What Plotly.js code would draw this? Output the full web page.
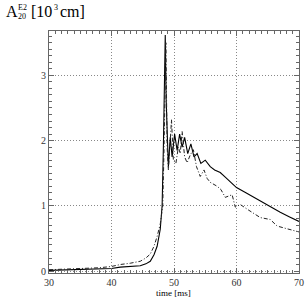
<!DOCTYPE html>
<html><head><meta charset="utf-8">
<script src="https://cdn.plot.ly/plotly-3.0.1.min.js"></script>
<style>html,body{margin:0;padding:0;background:#fff;}</style>
</head><body>
<div id="chart" style="width:305px;height:305px;"></div>
<script>
const solidT = [30,32,34,36,38,40,41.4,43,44.6,45.5,46.2,46.8,47.3,47.8,48.1,48.3,48.45,48.6,48.75,48.9,49.1,49.4,49.7,50.1,50.5,50.9,51.3,51.7,52.2,52.7,53.2,53.7,54.3,55,55.8,56.5,57.4,58.2,59,60,61.5,63.8,65.5,67,68.5,70];
const solidA = [0.01,0.015,0.02,0.025,0.03,0.04,0.06,0.07,0.08,0.11,0.15,0.25,0.38,0.64,1.0,1.9,3.0,3.62,2.6,2.0,1.6,2.05,1.75,2.1,1.85,2.1,1.9,2.05,1.8,1.95,1.75,1.8,1.65,1.7,1.6,1.55,1.51,1.44,1.37,1.28,1.2,1.07,0.98,0.9,0.83,0.76];
const dashT = [30,32,34,36,38,40,41.4,43,44.6,45.5,46.2,46.8,47.3,47.8,48.2,48.4,48.55,48.7,48.9,49.1,49.4,49.6,49.9,50.3,50.7,51.0,51.3,51.7,52.1,52.6,53.1,53.6,54.2,54.8,55.3,55.8,56.9,57.5,58.2,58.8,59.3,59.8,60.6,62,63.8,65.4,66.5,68,70];
const dashA = [0.02,0.025,0.03,0.04,0.05,0.07,0.1,0.12,0.15,0.2,0.26,0.38,0.53,0.72,1.0,1.86,2.8,3.5,1.9,1.55,2.0,2.32,1.7,1.65,1.9,1.8,2.14,1.75,1.66,1.78,1.86,1.6,1.45,1.55,1.42,1.36,1.3,1.25,1.13,1.15,1.17,0.98,1.02,0.93,0.82,0.79,0.69,0.65,0.6];
const xTicks = [30,40,50,60,70];
const yTicks = [0,1,2,3];

const traces = [
  {x: solidT, y: solidA, type:'scatter', mode:'lines', line:{color:'#000', width:1.1}},
  {x: dashT, y: dashA, type:'scatter', mode:'lines', line:{color:'#222', width:1, dash:'4px,2px,1px,2px'}}
];
const serif = 'Liberation Serif, Times New Roman, serif';
const axisCommon = {
  showline:true, linecolor:'#666', linewidth:1, mirror:'ticks',
  ticks:'inside', ticklen:5, tickcolor:'#666', tickwidth:1,
  showgrid:true, gridcolor:'#888', griddash:'1px,2px', gridwidth:1,
  zeroline:false, tickfont:{family:serif, size:10, color:'#333'}
};
function ann(text, px, py, size, anchor){
  return {text:text, xref:'paper', yref:'paper', x:(px-49)/250, y:(273-py)/242,
    xanchor:anchor||'left', yanchor:'middle', showarrow:false, borderpad:0,
    font:{family:serif, size:size, color:'#000'}};
}
const layout = {
  width:305, height:305, showlegend:false,
  paper_bgcolor:'#fff', plot_bgcolor:'#fff',
  margin:{l:49, r:6, t:31, b:32},
  xaxis: Object.assign({}, axisCommon, {range:[30,70], tickvals:xTicks, ticktext:xTicks.map(String),
    minor:{dtick:1, ticks:'inside', ticklen:3, tickcolor:'#666', showgrid:false}}),
  yaxis: Object.assign({}, axisCommon, {range:[-0.03,3.68], tickvals:yTicks, ticktext:yTicks.map(String),
    minor:{dtick:0.1, ticks:'inside', ticklen:3, tickcolor:'#666', showgrid:false}}),
  annotations:[
    ann('A',5,12,16), ann('E2',17,8,8), ann('20',17,17,8),
    ann('[10',30,12,16), ann('3',53,8,8), ann('cm]',59,12,16),
    ann('time [ms]',173,293,9,'center')
  ]
};
Plotly.newPlot('chart', traces, layout, {staticPlot:true, displayModeBar:false});
</script>
</body></html>
